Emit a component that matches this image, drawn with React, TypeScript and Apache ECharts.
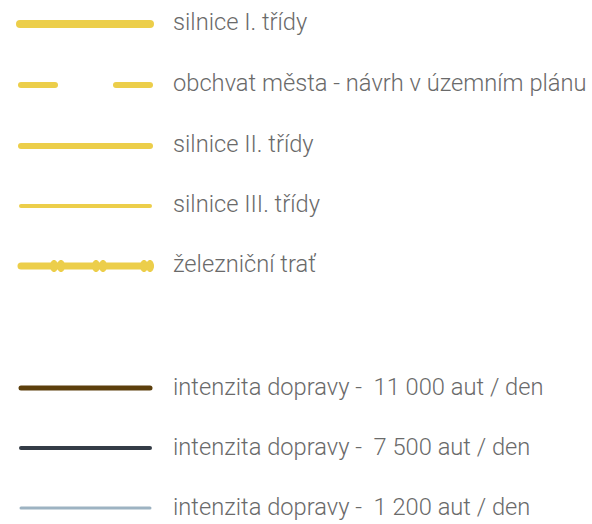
import React, { useEffect, useRef } from "react";
import * as echarts from "echarts";

const roadLabels = [
  "silnice I. třídy",
  "obchvat města - návrh v územním plánu",
  "silnice II. třídy",
  "silnice III. třídy",
  "železniční trať",
];
const trafficLabels = [
  "intenzita dopravy -  11 000 aut / den",
  "intenzita dopravy -  7 500 aut / den",
  "intenzita dopravy -  1 200 aut / den",
];
const trafficColors = ["#5c3f0c", "#343c46", "#9db3c2"];

const YELLOW = "#ecce4a";
const TEXT = "#6a6a6a";

export default function App() {
  const ref = useRef<HTMLDivElement>(null);
  useEffect(() => {
    const chart = echarts.init(ref.current!, null, { renderer: "svg" });
    const tx = 173;
    const rowsY = [24, 85, 146, 206, 266];
    const rowsY2 = [388, 448, 508];
    const g: any[] = [];
    const seg = (xa: number, xb: number, y: number, w: number, color: string, dash?: number[]) => ({
      type: "line",
      shape: { x1: xa, y1: y, x2: xb, y2: y },
      style: { stroke: color, lineWidth: w, lineCap: "round", lineDash: dash },
    });
    const label = (t: string, y: number) => ({
      type: "text",
      x: tx,
      y,
      style: {
        text: t,
        fill: TEXT,
        fontFamily: "'Roboto Light', Roboto",
        fontWeight: 300,
        fontSize: 23.7,
        textVerticalAlign: "middle",
        verticalAlign: "middle",
      },
    });
    g.push(seg(20, 150, rowsY[0], 8, YELLOW));
    g.push(seg(21, 55, rowsY[1], 6, YELLOW));
    g.push(seg(116, 150, rowsY[1], 6, YELLOW));
    g.push(seg(21, 150, rowsY[2], 6, YELLOW));
    g.push(seg(21, 150, rowsY[3], 4, YELLOW));
    g.push(seg(21, 150, rowsY[4], 7, YELLOW));
    [[54, 61], [96, 103], [144, 150]].forEach(([a, b]) => {
      [a, b].forEach((cx) =>
        g.push({
          type: "ellipse",
          shape: { cx, cy: rowsY[4], rx: 4, ry: 6 },
          style: { fill: YELLOW },
        })
      );
    });
    roadLabels.forEach((t, i) => g.push(label(t, rowsY[i] - 2)));
    trafficLabels.forEach((t, i) => {
      const w = i === 0 ? 5 : i === 1 ? 4 : 3;
      g.push(seg(21, 150, rowsY2[i], w, trafficColors[i]));
      g.push(label(t, rowsY2[i] - 1));
    });
    chart.setOption({ animation: false, graphic: g });
    return () => chart.dispose();
  }, []);
  return <div ref={ref} style={{ width: 592, height: 524, position: "absolute", left: 0, top: 0 }} />;
}
